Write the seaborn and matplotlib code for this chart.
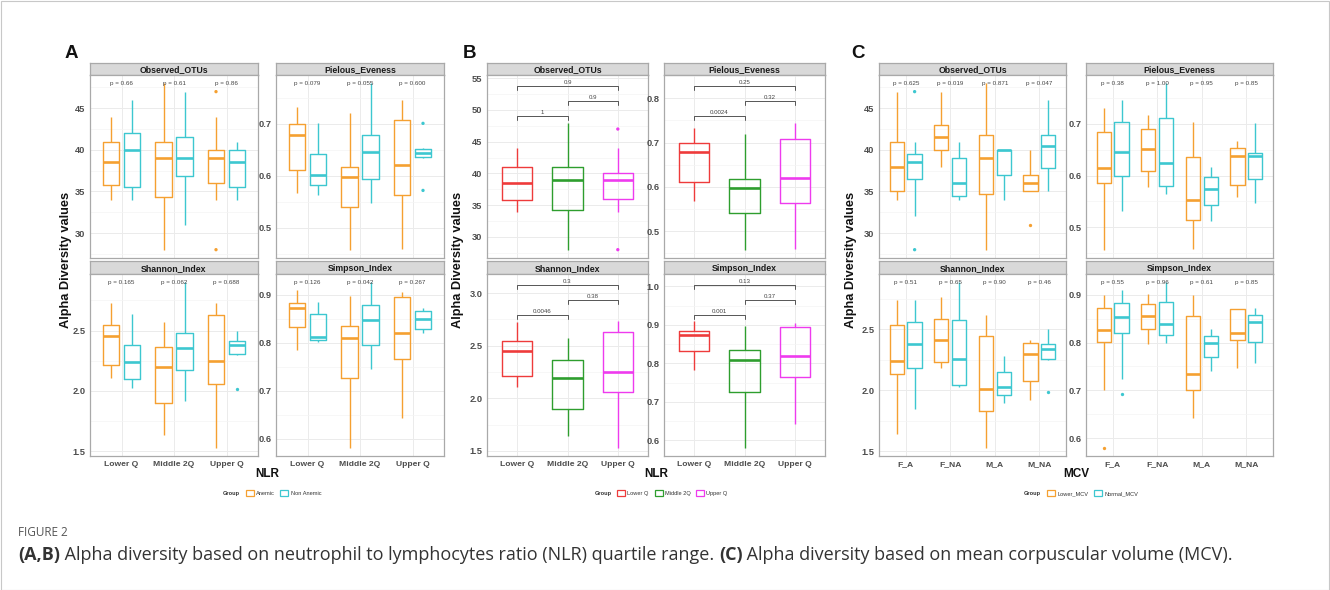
import numpy as np
import pandas as pd
import matplotlib
matplotlib.use('Agg')
import matplotlib.pyplot as plt
import seaborn as sns
from matplotlib.patches import Patch, Rectangle

# ---- data: five-number summaries [low whisker, Q1, median, Q3, high whisker]
metrics = ['Observed_OTUs', 'Pielous_Eveness', 'Shannon_Index', 'Simpson_Index']

nlr_cats = ['Lower Q', 'Middle 2Q', 'Upper Q']
anemia_groups = ['Anemic', 'Non Anemic']

otu_anemic = [[34, 35.8, 38.5, 41, 44], [28, 34.3, 39, 41, 48], [34, 36, 39, 40, 44]]
otu_nonanemic = [[34, 35.5, 40, 42, 46], [31, 36.8, 39, 41.5, 47], [34, 35.5, 38.5, 40, 41]]
pielou_anemic = [[0.567, 0.612, 0.679, 0.700, 0.732], [0.458, 0.541, 0.597, 0.618, 0.720],
                 [0.460, 0.564, 0.621, 0.708, 0.745]]
pielou_nonanemic = [[0.564, 0.583, 0.602, 0.642, 0.702], [0.548, 0.593, 0.646, 0.679, 0.778],
                    [0.635, 0.636, 0.644, 0.652, 0.653]]
shannon_anemic = [[2.106, 2.215, 2.454, 2.549, 2.725], [1.639, 1.902, 2.196, 2.364, 2.573],
                  [1.530, 2.060, 2.247, 2.630, 2.731]]
shannon_nonanemic = [[2.024, 2.098, 2.242, 2.378, 2.641], [1.916, 2.174, 2.356, 2.478, 2.900],
                     [2.300, 2.310, 2.378, 2.410, 2.495]]
simpson_anemic = [[0.784, 0.833, 0.873, 0.883, 0.909], [0.581, 0.726, 0.810, 0.835, 0.897],
                  [0.642, 0.765, 0.820, 0.895, 0.905]]
simpson_nonanemic = [[0.801, 0.806, 0.812, 0.860, 0.885], [0.746, 0.795, 0.847, 0.878, 0.926],
                     [0.821, 0.828, 0.850, 0.867, 0.872]]

# outliers as (category, value)
otu_anemic_out = [('Upper Q', 47), ('Upper Q', 28)]
otu_nonanemic_out = []
pielou_anemic_out = []
pielou_nonanemic_out = [('Upper Q', 0.701), ('Upper Q', 0.572)]
shannon_anemic_out = []
shannon_nonanemic_out = [('Upper Q', 2.02)]
simpson_anemic_out = []
simpson_nonanemic_out = []

p_otu_nlr = ['0.66', '0.61', '0.86']
p_pielou_nlr = ['0.079', '0.055', '0.600']
p_shannon_nlr = ['0.165', '0.062', '0.688']
p_simpson_nlr = ['0.126', '0.042', '0.267']

# panel B: pairwise comparisons among the anemic group
pairs = [('Lower Q', 'Middle 2Q'), ('Middle 2Q', 'Upper Q'), ('Lower Q', 'Upper Q')]
brk_otu = ['1', '0.9', '0.9']
brk_pielou = ['0.0024', '0.32', '0.25']
brk_shannon = ['0.0046', '0.38', '0.3']
brk_simpson = ['0.001', '0.37', '0.13']

mcv_cats = ['F_A', 'F_NA', 'M_A', 'M_NA']
mcv_groups = ['Lower_MCV', 'Normal_MCV']

otu_lower = [[34, 35, 38, 41, 47], [38, 40, 41.6, 43, 47], [28, 34.7, 39, 41.8, 48], [35, 35, 36, 37, 40]]
otu_normal = [[32, 36.5, 38.5, 39.5, 41], [34, 34.5, 36, 39, 41], [34, 37, 40, 40, 40], [35, 37.8, 40.5, 41.8, 46]]
pielou_lower = [[0.457, 0.585, 0.615, 0.684, 0.731], [0.578, 0.609, 0.652, 0.690, 0.717],
                [0.458, 0.514, 0.553, 0.636, 0.704], [0.558, 0.582, 0.637, 0.653, 0.666]]
pielou_normal = [[0.532, 0.600, 0.645, 0.703, 0.746], [0.564, 0.580, 0.625, 0.712, 0.778],
                 [0.513, 0.543, 0.574, 0.597, 0.617], [0.547, 0.594, 0.637, 0.644, 0.701]]
shannon_lower = [[1.646, 2.134, 2.240, 2.538, 2.736], [2.180, 2.229, 2.410, 2.587, 2.768],
                 [1.530, 1.827, 2.010, 2.446, 2.614], [1.923, 2.077, 2.300, 2.389, 2.410]]
shannon_normal = [[1.847, 2.180, 2.383, 2.557, 2.736], [2.024, 2.040, 2.260, 2.573, 2.885],
                  [1.900, 1.963, 2.030, 2.153, 2.280], [2.250, 2.253, 2.337, 2.383, 2.500]]
simpson_lower = [[0.701, 0.802, 0.826, 0.872, 0.900], [0.797, 0.828, 0.856, 0.880, 0.902],
                 [0.642, 0.700, 0.734, 0.855, 0.899], [0.746, 0.806, 0.819, 0.870, 0.870]]
simpson_normal = [[0.724, 0.819, 0.854, 0.883, 0.910], [0.800, 0.815, 0.838, 0.885, 0.926],
                  [0.741, 0.769, 0.799, 0.813, 0.828], [0.757, 0.802, 0.843, 0.857, 0.872]]

otu_lower_out = [('M_NA', 31)]
otu_normal_out = [('F_A', 47), ('F_A', 28)]
pielou_lower_out = []
pielou_normal_out = []
shannon_lower_out = []
shannon_normal_out = [('M_NA', 1.99)]
simpson_lower_out = [('F_A', 0.58)]
simpson_normal_out = [('F_A', 0.693)]

p_otu_mcv = ['0.625', '0.019', '0.871', '0.047']
p_pielou_mcv = ['0.38', '1.00', '0.95', '0.85']
p_shannon_mcv = ['0.51', '0.65', '0.90', '0.46']
p_simpson_mcv = ['0.55', '0.96', '0.61', '0.85']

# ---- styling
anemia_colors = ['#F5A031', '#3DC7D0']
nlr_colors = ['#EE3B3B', '#2E9E2E', '#EE3BEE']
mcv_colors = anemia_colors
steps = [5, 0.1, 0.5, 0.1]
decimals = [0, 1, 1, 1]

sns.set_style('white')
plt.rcParams['font.family'] = ['Liberation Sans', 'DejaVu Sans']

W, H = 1330, 590
fig = plt.figure(figsize=(W / 100, H / 100), dpi=100)
TXT = '#4D4D4D'
BORDER = '#A9A9A9'

strip_rows = [(63, 75), (261, 274)]
panel_rows = [(75, 258), (274, 456)]


def px_axes(x0, x1, y0, y1):
    return fig.add_axes([x0 / W, 1 - y1 / H, (x1 - x0) / W, (y1 - y0) / H])


def facet(cols, m):
    r, c = divmod(m, 2)
    x0, x1 = cols[c]
    s = px_axes(x0, x1, *strip_rows[r])
    s.set_facecolor('#D9D9D9')
    s.set_xticks([])
    s.set_yticks([])
    for sp in s.spines.values():
        sp.set_color(BORDER)
        sp.set_linewidth(0.9)
    s.text(0.5, 0.45, metrics[m], ha='center', va='center', fontsize=6.3, fontweight='bold',
           color='#1A1A1A', transform=s.transAxes)
    ax = px_axes(x0, x1, *panel_rows[r])
    return ax, r == 1


def out_frame(groups, outliers):
    rows = [(c, g, v) for g, pts in zip(groups, outliers) for c, v in pts]
    return pd.DataFrame(rows, columns=['cat', 'group', 'value'])


def grouped_panel(ax, cats, groups, colors, summaries, outliers):
    rows = [(c, g, v) for g, summ in zip(groups, summaries) for c, five in zip(cats, summ) for v in five]
    df = pd.DataFrame(rows, columns=['cat', 'group', 'value'])
    pal = dict(zip(groups, colors))
    sns.boxplot(data=df, x='cat', y='value', hue='group', order=cats, hue_order=groups,
                palette=pal, fill=False, whis=(0, 100), showcaps=False, showfliers=False,
                width=0.8, gap=0.2, linewidth=1.0, medianprops={'linewidth': 1.9},
                legend=False, ax=ax)
    odf = out_frame(groups, outliers)
    if len(odf):
        sns.stripplot(data=odf, x='cat', y='value', hue='group', order=cats, hue_order=groups,
                      palette=pal, dodge=True, jitter=False, size=2.4, linewidth=0,
                      legend=False, ax=ax)
    vals = df['value'].tolist() + odf['value'].tolist()
    return min(vals), max(vals)


def single_panel(ax, cats, colors, summary, outliers):
    rows = [(c, c, v) for c, five in zip(cats, summary) for v in five]
    df = pd.DataFrame(rows, columns=['cat', 'group', 'value'])
    pal = dict(zip(cats, colors))
    sns.boxplot(data=df, x='cat', y='value', hue='cat', order=cats, hue_order=cats,
                palette=pal, fill=False, whis=(0, 100), showcaps=False, showfliers=False,
                width=0.6, linewidth=1.0, medianprops={'linewidth': 1.9},
                legend=False, ax=ax)
    odf = pd.DataFrame(outliers, columns=['cat', 'value'])
    if len(odf):
        sns.stripplot(data=odf, x='cat', y='value', hue='cat', order=cats, hue_order=cats,
                      palette=pal, jitter=False, size=2.4, linewidth=0, legend=False, ax=ax)
    vals = df['value'].tolist() + odf['value'].tolist()
    return min(vals), max(vals)


def style(ax, cats, lo, hi, m, bottom):
    span = hi - lo
    ylo, yhi = lo - 0.05 * span, hi + 0.05 * span
    ax.set_xlim(-0.6, len(cats) - 0.4)
    ax.set_ylim(ylo, yhi)
    step = steps[m]
    ticks = np.arange(np.ceil(ylo / step - 1e-9) * step, yhi, step)
    ticks = ticks[ticks <= yhi]
    ax.set_yticks(ticks)
    ax.set_yticklabels([f'{t:.{decimals[m]}f}' for t in ticks], fontsize=6.7,
                       fontweight='bold', color=TXT)
    minor = np.concatenate([ticks - step / 2, [ticks[-1] + step / 2]])
    ax.set_yticks(minor[(minor > ylo) & (minor < yhi)], minor=True)
    ax.set_xticks(range(len(cats)))
    if bottom:
        ax.set_xticklabels(cats, fontsize=6.1, fontweight='bold', color=TXT)
        ax.tick_params(axis='x', length=2.2, width=0.6, color='#333333', pad=1.2)
    else:
        ax.tick_params(axis='x', length=0, labelbottom=False)
    ax.tick_params(axis='y', which='major', length=2.2, width=0.6, color='#333333', pad=1)
    ax.tick_params(axis='y', which='minor', length=0)
    ax.grid(True, which='major', color='#EBEBEB', linewidth=0.7)
    ax.yaxis.grid(True, which='minor', color='#F4F4F4', linewidth=0.5)
    ax.set_axisbelow(True)
    ax.set_xlabel('')
    ax.set_ylabel('')
    for sp in ax.spines.values():
        sp.set_color(BORDER)
        sp.set_linewidth(0.9)


def pvalues(ax, labels, y):
    for i, p in enumerate(labels):
        ax.text(i, y, f'p = {p}', ha='center', va='center', fontsize=4.5, color='#444444')


def legend(xc, labels, colors):
    handles = [Patch(facecolor='none', edgecolor='none')] + \
              [Patch(facecolor='white', edgecolor=c, linewidth=0.9) for c in colors]
    leg = fig.legend(handles, ['Group'] + labels, loc='center', bbox_to_anchor=(xc / W, 1 - 493 / H),
                     ncol=len(handles), frameon=False, prop={'size': 4.1},
                     handlelength=1.4, handleheight=1.4, handletextpad=0.4, columnspacing=1.0,
                     borderaxespad=0)
    leg.get_texts()[0].set_fontweight('bold')
    for t in leg.get_texts():
        t.set_color('#333333')


# ---- panel A
cols_A = [(90, 258), (276, 444)]
a_anemic = [otu_anemic, pielou_anemic, shannon_anemic, simpson_anemic]
a_non = [otu_nonanemic, pielou_nonanemic, shannon_nonanemic, simpson_nonanemic]
a_out_anemic = [otu_anemic_out, pielou_anemic_out, shannon_anemic_out, simpson_anemic_out]
a_out_non = [otu_nonanemic_out, pielou_nonanemic_out, shannon_nonanemic_out, simpson_nonanemic_out]
a_p = [p_otu_nlr, p_pielou_nlr, p_shannon_nlr, p_simpson_nlr]
for m in range(4):
    ax, bottom = facet(cols_A, m)
    lo, hi = grouped_panel(ax, nlr_cats, anemia_groups, anemia_colors,
                           [a_anemic[m], a_non[m]], [a_out_anemic[m], a_out_non[m]])
    style(ax, nlr_cats, lo, hi, m, bottom)
    pvalues(ax, a_p[m], hi)

# ---- panel B
cols_B = [(487, 648), (664, 825)]
b_brk = [brk_otu, brk_pielou, brk_shannon, brk_simpson]
for m in range(4):
    ax, bottom = facet(cols_B, m)
    lo, hi = single_panel(ax, nlr_cats, nlr_colors, a_anemic[m], a_out_anemic[m])
    rng = hi - lo
    style(ax, nlr_cats, lo, hi + 0.31 * rng, m, bottom)
    for k, ((c1, c2), lab) in enumerate(zip(pairs, b_brk[m])):
        y = hi + rng * (0.05 + 0.12 * k)
        i1, i2 = nlr_cats.index(c1), nlr_cats.index(c2)
        ax.plot([i1, i1, i2, i2], [y - 0.03 * rng, y, y, y - 0.03 * rng],
                color='#555555', linewidth=0.7)
        ax.text((i1 + i2) / 2, y + 0.01 * rng, lab, ha='center', va='bottom',
                fontsize=4.4, color='#444444')

# ---- panel C
cols_C = [(879, 1066), (1086, 1273)]
c_lower = [otu_lower, pielou_lower, shannon_lower, simpson_lower]
c_normal = [otu_normal, pielou_normal, shannon_normal, simpson_normal]
c_out_lower = [otu_lower_out, pielou_lower_out, shannon_lower_out, simpson_lower_out]
c_out_normal = [otu_normal_out, pielou_normal_out, shannon_normal_out, simpson_normal_out]
c_p = [p_otu_mcv, p_pielou_mcv, p_shannon_mcv, p_simpson_mcv]
for m in range(4):
    ax, bottom = facet(cols_C, m)
    lo, hi = grouped_panel(ax, mcv_cats, mcv_groups, mcv_colors,
                           [c_lower[m], c_normal[m]], [c_out_lower[m], c_out_normal[m]])
    style(ax, mcv_cats, lo, hi, m, bottom)
    pvalues(ax, c_p[m], hi)

# ---- shared labels
for letter, xl, xy, xlab, xc in [('A', 71, 66, 'NLR', 267), ('B', 470, 458, 'NLR', 656),
                                  ('C', 858, 851, 'MCV', 1076)]:
    fig.text(xl / W, 1 - 53 / H, letter, fontsize=13.5, fontweight='bold', ha='center', va='center',
             color='#111111')
    fig.text(xy / W, 1 - 260 / H, 'Alpha Diversity values', rotation=90, fontsize=9.2,
             fontweight='bold', ha='center', va='center', color='#111111')
    fig.text(xc / W, 1 - 474 / H, xlab, fontsize=8.5, fontweight='bold', ha='center', va='center',
             color='#111111')

legend(267, anemia_groups, anemia_colors)
legend(656, nlr_cats, nlr_colors)
legend(1076, mcv_groups, mcv_colors)

# ---- caption
cap = fig.add_axes([0, 0, 1, 1])
cap.axis('off')
fig.text(18 / W, 1 - 533 / H, 'FIGURE 2', fontsize=8.5, color='#555555', family='Open Sans',
         va='center')
t = fig.text(18 / W, 1 - 564 / H, '(A,B)', fontsize=13, fontweight='bold', color='#333333',
             family='Open Sans', va='bottom')
for s, w in [(' Alpha diversity based on neutrophil to lymphocytes ratio (NLR) quartile range. ', 'normal'),
             ('(C)', 'bold'),
             (' Alpha diversity based on mean corpuscular volume (MCV).', 'normal')]:
    t = cap.annotate(s, xy=(1, 0), xycoords=t, ha='left', va='bottom', fontsize=13,
                     fontweight=w, color='#333333', family='Open Sans')

fig.add_artist(Rectangle((0.5 / W, 0.5 / H), 1 - 1.5 / W, 1 - 1.5 / H, transform=fig.transFigure,
                         fill=False, edgecolor='#C8C8C8', linewidth=0.8))

fig.savefig('out.png', dpi=100)
